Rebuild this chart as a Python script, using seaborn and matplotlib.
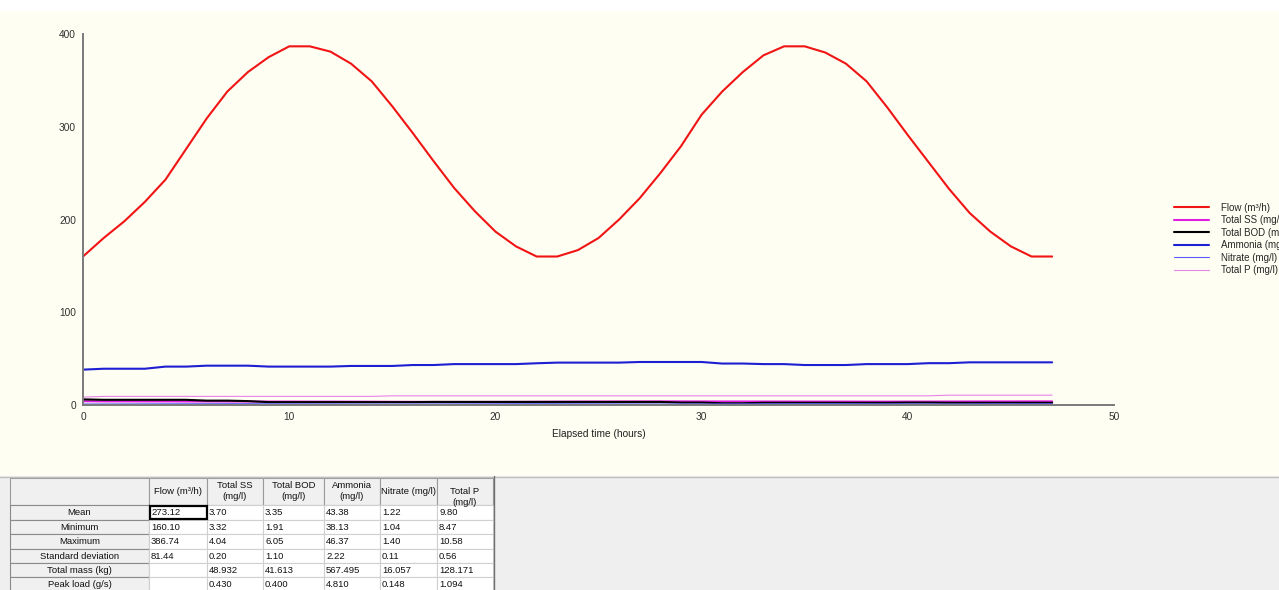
import numpy as np
import pandas as pd
import matplotlib
matplotlib.use("Agg")
import matplotlib.pyplot as plt
from matplotlib.patches import Rectangle
import seaborn as sns

# ---- time series (hourly, 0..47 h) ----
hours = list(range(48))

flow = [160.1, 180.0, 198.0, 219.0, 243.0, 276.0, 309.0, 338.0, 359.0, 375.0,
        386.7, 386.7, 381.0, 368.0, 349.0, 322.0, 293.0, 263.0, 234.0, 209.0,
        187.0, 171.0, 160.1, 160.1, 167.0, 180.0, 200.0, 223.0, 250.0, 279.0,
        313.0, 338.0, 359.0, 377.0, 386.7, 386.7, 380.0, 368.0, 349.0, 321.0,
        291.0, 262.0, 233.0, 207.0, 187.0, 171.0, 160.1, 160.1]

total_ss = [4.04, 3.90, 3.90, 3.85, 3.85, 3.80, 3.80, 3.75, 3.75, 3.70,
            3.70, 3.65, 3.65, 3.60, 3.55, 3.45, 3.40, 3.35, 3.32, 3.32,
            3.35, 3.40, 3.50, 3.60, 3.70, 3.75, 3.80, 3.85, 3.90, 3.90,
            3.85, 3.80, 3.80, 3.75, 3.75, 3.70, 3.70, 3.70, 3.65, 3.65,
            3.70, 3.70, 3.75, 3.80, 3.85, 3.85, 3.90, 3.90]

total_bod = [6.05, 5.60, 5.60, 5.60, 5.60, 5.60, 4.70, 4.70, 4.20, 3.10,
             3.10, 3.10, 3.10, 3.10, 3.10, 3.10, 3.10, 3.30, 3.30, 3.30,
             3.30, 3.30, 3.30, 3.30, 3.30, 3.30, 3.30, 3.30, 3.30, 2.60,
             2.60, 1.91, 1.91, 2.40, 2.40, 2.40, 2.40, 2.40, 2.40, 2.40,
             2.60, 2.60, 2.40, 2.40, 2.40, 2.40, 2.40, 2.40]

ammonia = [38.13, 39.10, 39.10, 39.10, 41.40, 41.40, 42.40, 42.40, 42.40, 41.40,
           41.40, 41.40, 41.40, 42.10, 42.10, 42.10, 43.10, 43.10, 44.10, 44.10,
           44.10, 44.10, 45.00, 45.70, 45.70, 45.70, 45.70, 46.37, 46.37, 46.37,
           46.37, 44.70, 44.70, 44.10, 44.10, 43.10, 43.10, 43.10, 44.10, 44.10,
           44.10, 45.10, 45.10, 46.00, 46.00, 46.00, 46.00, 46.00]

nitrate = [1.04, 1.10, 1.15, 1.20, 1.25, 1.30, 1.35, 1.40, 1.38, 1.32,
           1.28, 1.22, 1.18, 1.12, 1.08, 1.06, 1.10, 1.15, 1.20, 1.25,
           1.30, 1.35, 1.38, 1.36, 1.30, 1.25, 1.20, 1.15, 1.10, 1.08,
           1.12, 1.18, 1.22, 1.26, 1.30, 1.34, 1.36, 1.32, 1.28, 1.22,
           1.18, 1.14, 1.12, 1.16, 1.20, 1.24, 1.26, 1.28]

total_p = [8.47] + [9.30] * 14 + [9.90] * 27 + [10.58] * 6

series_names = ["Flow (m³/h)", "Total SS (mg/l)", "Total BOD (mg/l)",
                "Ammonia (mg/l)", "Nitrate (mg/l)", "Total P (mg/l)"]
series_values = [flow, total_ss, total_bod, ammonia, nitrate, total_p]
series_colors = ["#F01414", "#E01FE0", "#000000", "#1E1ED2", "#5A5AFF", "#E784E7"]
series_widths = [1.5, 1.5, 1.5, 1.5, 0.8, 0.8]

# ---- summary table ----
table_cols = ["Flow (m³/h)", "Total SS\n(mg/l)", "Total BOD\n(mg/l)",
              "Ammonia\n(mg/l)", "Nitrate (mg/l)", "Total P\n(mg/l)"]
table_rows = ["Mean", "Minimum", "Maximum", "Standard deviation",
              "Total mass (kg)", "Peak load (g/s)"]
row_mean = ["273.12", "3.70", "3.35", "43.38", "1.22", "9.80"]
row_min = ["160.10", "3.32", "1.91", "38.13", "1.04", "8.47"]
row_max = ["386.74", "4.04", "6.05", "46.37", "1.40", "10.58"]
row_std = ["81.44", "0.20", "1.10", "2.22", "0.11", "0.56"]
row_mass = ["", "48.932", "41.613", "567.495", "16.057", "128.171"]
row_peak = ["", "0.430", "0.400", "4.810", "0.148", "1.094"]
table_cells = [row_mean, row_min, row_max, row_std, row_mass, row_peak]

sns.set_style("white")
plt.rcParams["font.family"] = ["Liberation Sans", "DejaVu Sans"]

W, H = 1279, 590
fig = plt.figure(figsize=(W / 100, H / 100), dpi=100, facecolor="white")

# background panels in pixel coordinates
bg = fig.add_axes([0, 0, 1, 1], zorder=-5)
bg.set_xlim(0, W)
bg.set_ylim(H, 0)
bg.axis("off")
bg.add_patch(Rectangle((0, 11), W, 465, facecolor="#FEFEF2", edgecolor="none"))
bg.add_patch(Rectangle((0, 476), W, 114, facecolor="#EFEFEF", edgecolor="none"))
bg.plot([0, W], [476.5, 476.5], color="#BDBDBD", lw=1)

# ---- chart ----
ax = fig.add_axes([83 / W, 1 - 405 / H, (1114 - 83) / W, (405 - 34) / H])
ax.set_facecolor("none")
for name, vals, col, lw in zip(series_names, series_values, series_colors, series_widths):
    sns.lineplot(x=hours, y=vals, ax=ax, color=col, linewidth=lw, label=name, legend=False)

ax.set_xlim(0, 50)
ax.set_ylim(0, 400)
ax.set_xticks(range(0, 51, 10))
ax.set_xticks(range(5, 50, 10), minor=True)
ax.set_yticks(range(0, 401, 100))
ax.set_yticks(range(50, 400, 100), minor=True)
for side in ["top", "right"]:
    ax.spines[side].set_visible(False)
for side in ["left", "bottom"]:
    ax.spines[side].set_color("#7A7A7A")
    ax.spines[side].set_linewidth(1.4)
ax.tick_params(which="both", direction="inout", length=5, width=1, color="#404040",
               labelsize=7.3, labelcolor="#303030", pad=2.5)
ax.set_xlabel("Elapsed time (hours)", fontsize=7.3, color="#202020", labelpad=5)
ax.set_ylabel("")

handles, labels = ax.get_legend_handles_labels()
fig.legend(handles, labels, loc="upper left", bbox_to_anchor=(1170 / W, 1 - 199 / H),
           frameon=False, fontsize=7, handlelength=3.6, handletextpad=1.2,
           labelspacing=0.25, borderaxespad=0)

# ---- summary table drawn in pixel coordinates ----
col_edges = [10, 149, 207, 263, 324, 380, 437, 493]
row_edges = [478, 505, 519.5, 534, 548.5, 563, 577, 591.5]
fs = 6.8

# header row
for j in range(len(col_edges) - 1):
    x0, x1 = col_edges[j], col_edges[j + 1]
    y0, y1 = row_edges[0], row_edges[1]
    cell = Rectangle((x0, y0), x1 - x0, y1 - y0, facecolor="#F0F0F0",
                     edgecolor="#9A9A9A", lw=0.8)
    bg.add_patch(cell)
    if j > 0:
        label = table_cols[j - 1]
        if "\n" in label:
            top = y0 + (9 if j == len(col_edges) - 2 else 3)
            t = bg.text((x0 + x1) / 2, top, label, ha="center", va="top",
                        fontsize=fs, color="#101010", linespacing=1.35)
        else:
            t = bg.text((x0 + x1) / 2, (y0 + y1) / 2 + 0.5, label, ha="center",
                        va="center", fontsize=fs, color="#101010")
        t.set_clip_path(cell)

# row headers and data cells
for i, rname in enumerate(table_rows):
    y0, y1 = row_edges[i + 1], row_edges[i + 2]
    bg.add_patch(Rectangle((col_edges[0], y0), col_edges[1] - col_edges[0], y1 - y0,
                           facecolor="#F0F0F0", edgecolor="#8A8A8A", lw=0.8))
    bg.text((col_edges[0] + col_edges[1]) / 2, (y0 + y1) / 2 + 0.5, rname, ha="center",
            va="center", fontsize=fs, color="#101010")
    for j, val in enumerate(table_cells[i]):
        x0, x1 = col_edges[j + 1], col_edges[j + 2]
        bg.add_patch(Rectangle((x0, y0), x1 - x0, y1 - y0, facecolor="white",
                               edgecolor="#D0D0D0", lw=0.8))
        bg.text(x0 + 2, (y0 + y1) / 2 + 0.5, val, ha="left", va="center",
                fontsize=fs, color="#101010")

# highlighted first data cell
bg.add_patch(Rectangle((col_edges[1] + 0.5, row_edges[1] + 0.5),
                       col_edges[2] - col_edges[1] - 1, row_edges[2] - row_edges[1] - 1,
                       facecolor="none", edgecolor="#000000", lw=1.6))
bg.plot([col_edges[-1] + 0.5] * 2, [476, H], color="#707070", lw=1)

fig.savefig("out.png", dpi=100, facecolor=fig.get_facecolor())
